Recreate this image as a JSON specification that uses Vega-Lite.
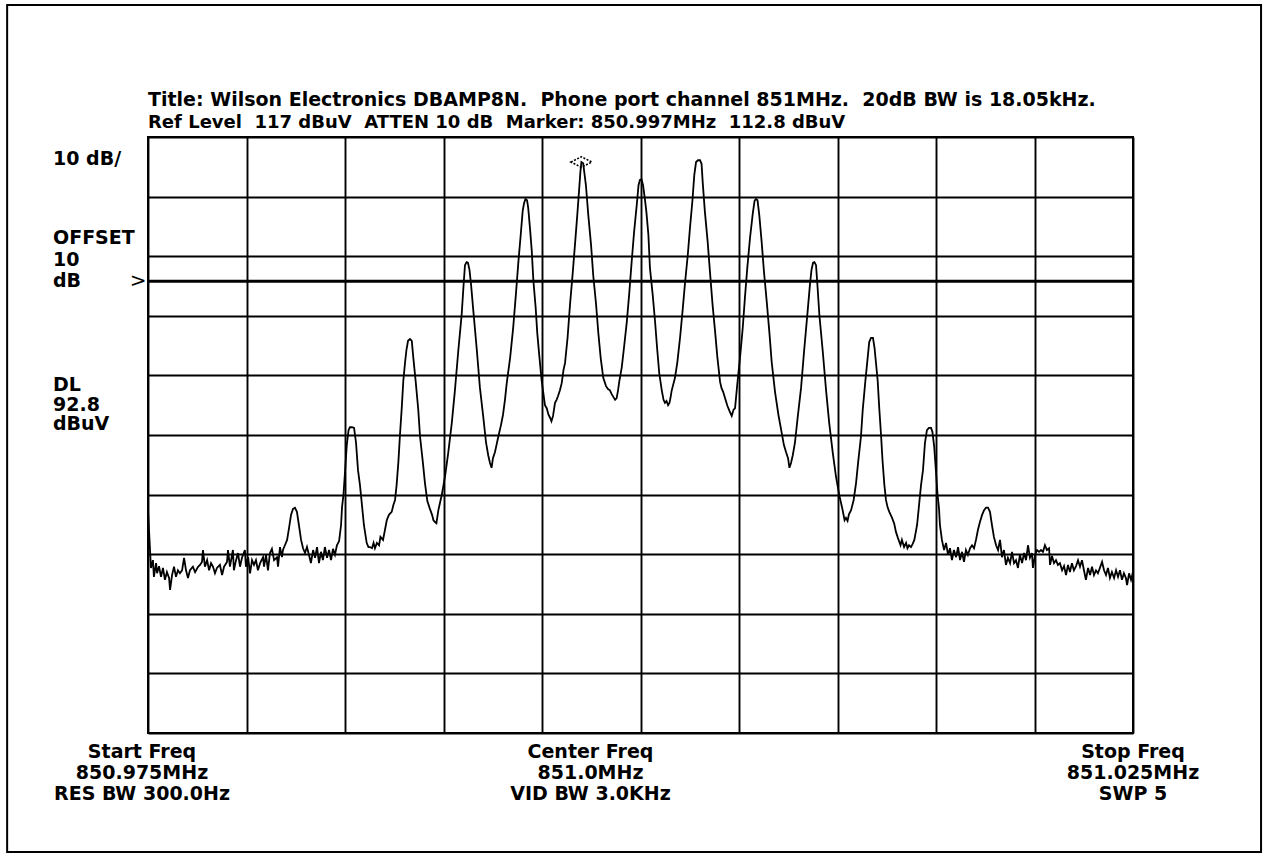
{
  "$schema": "https://vega.github.io/schema/vega-lite/v6.json",
  "width": 985,
  "height": 596,
  "autosize": {"type": "none"},
  "padding": {"left": 148, "top": 137, "right": 135, "bottom": 126},
  "background": "white",
  "config": {
    "view": {"stroke": "black", "strokeWidth": 2},
    "axis": {"grid": true, "gridColor": "black", "gridOpacity": 1, "gridWidth": 1.9, "domain": false, "ticks": false, "labels": false},
    "text": {"font": "DejaVu Sans", "fontWeight": "bold", "fontSize": 19, "fill": "black"}
  },
  "datasets": {
    "trace": [
      {"khz":-25.00,"dbuv":54.4},{"khz":-24.95,"dbuv":51.1},{"khz":-24.85,"dbuv":44.7},{"khz":-24.75,"dbuv":46.0},
      {"khz":-24.70,"dbuv":43.2},{"khz":-24.59,"dbuv":45.5},{"khz":-24.54,"dbuv":43.8},{"khz":-24.44,"dbuv":45.0},
      {"khz":-24.34,"dbuv":43.2},{"khz":-24.24,"dbuv":44.7},{"khz":-24.14,"dbuv":42.7},{"khz":-24.04,"dbuv":44.0},
      {"khz":-23.93,"dbuv":43.0},{"khz":-23.88,"dbuv":41.0},{"khz":-23.78,"dbuv":43.5},{"khz":-23.68,"dbuv":44.9},
      {"khz":-23.58,"dbuv":43.2},{"khz":-23.48,"dbuv":44.3},{"khz":-23.38,"dbuv":43.8},{"khz":-23.27,"dbuv":44.3},
      {"khz":-23.17,"dbuv":46.4},{"khz":-23.07,"dbuv":44.3},{"khz":-22.97,"dbuv":43.0},{"khz":-22.87,"dbuv":44.3},
      {"khz":-22.72,"dbuv":44.9},{"khz":-22.61,"dbuv":44.0},{"khz":-22.46,"dbuv":44.9},{"khz":-22.36,"dbuv":45.2},
      {"khz":-22.26,"dbuv":45.7},{"khz":-22.21,"dbuv":47.7},{"khz":-22.11,"dbuv":44.9},{"khz":-22.00,"dbuv":46.0},
      {"khz":-21.90,"dbuv":44.3},{"khz":-21.80,"dbuv":45.5},{"khz":-21.70,"dbuv":44.9},{"khz":-21.60,"dbuv":43.8},
      {"khz":-21.50,"dbuv":44.7},{"khz":-21.35,"dbuv":45.2},{"khz":-21.24,"dbuv":43.5},{"khz":-21.14,"dbuv":44.9},
      {"khz":-20.99,"dbuv":45.7},{"khz":-20.94,"dbuv":47.7},{"khz":-20.84,"dbuv":44.9},{"khz":-20.69,"dbuv":47.7},
      {"khz":-20.64,"dbuv":44.3},{"khz":-20.53,"dbuv":46.0},{"khz":-20.43,"dbuv":47.2},{"khz":-20.33,"dbuv":44.9},
      {"khz":-20.23,"dbuv":46.4},{"khz":-20.08,"dbuv":47.7},{"khz":-20.03,"dbuv":44.9},{"khz":-19.92,"dbuv":46.5},
      {"khz":-19.82,"dbuv":43.8},{"khz":-19.72,"dbuv":46.0},{"khz":-19.62,"dbuv":45.2},{"khz":-19.52,"dbuv":46.0},
      {"khz":-19.42,"dbuv":44.3},{"khz":-19.31,"dbuv":45.5},{"khz":-19.16,"dbuv":46.5},{"khz":-19.11,"dbuv":44.9},
      {"khz":-19.01,"dbuv":46.9},{"khz":-18.91,"dbuv":44.3},{"khz":-18.81,"dbuv":47.2},{"khz":-18.71,"dbuv":47.9},
      {"khz":-18.60,"dbuv":46.0},{"khz":-18.45,"dbuv":46.5},{"khz":-18.40,"dbuv":44.9},{"khz":-18.30,"dbuv":48.2},
      {"khz":-18.20,"dbuv":46.5},{"khz":-18.15,"dbuv":47.7},{"khz":-18.05,"dbuv":48.5},{"khz":-17.94,"dbuv":49.4},
      {"khz":-17.84,"dbuv":51.4},{"khz":-17.74,"dbuv":53.6},{"khz":-17.64,"dbuv":54.6},{"khz":-17.54,"dbuv":54.8},
      {"khz":-17.44,"dbuv":54.1},{"khz":-17.34,"dbuv":51.9},{"khz":-17.23,"dbuv":49.4},{"khz":-17.13,"dbuv":48.0},
      {"khz":-17.03,"dbuv":47.2},{"khz":-16.93,"dbuv":48.2},{"khz":-16.83,"dbuv":46.9},{"khz":-16.73,"dbuv":45.5},
      {"khz":-16.62,"dbuv":47.7},{"khz":-16.52,"dbuv":46.4},{"khz":-16.42,"dbuv":48.2},{"khz":-16.32,"dbuv":45.5},
      {"khz":-16.22,"dbuv":47.4},{"khz":-16.12,"dbuv":46.0},{"khz":-16.02,"dbuv":48.2},{"khz":-15.91,"dbuv":46.4},
      {"khz":-15.81,"dbuv":47.7},{"khz":-15.71,"dbuv":46.0},{"khz":-15.61,"dbuv":47.9},{"khz":-15.51,"dbuv":46.9},
      {"khz":-15.41,"dbuv":48.5},{"khz":-15.30,"dbuv":49.2},{"khz":-15.20,"dbuv":51.9},{"khz":-15.15,"dbuv":54.9},
      {"khz":-15.08,"dbuv":56.9},{"khz":-15.00,"dbuv":60.8},{"khz":-14.91,"dbuv":65.3},{"khz":-14.82,"dbuv":67.8},
      {"khz":-14.75,"dbuv":68.3},{"khz":-14.64,"dbuv":68.3},{"khz":-14.54,"dbuv":68.2},{"khz":-14.44,"dbuv":65.7},
      {"khz":-14.34,"dbuv":61.1},{"khz":-14.24,"dbuv":58.6},{"khz":-14.15,"dbuv":55.6},{"khz":-14.04,"dbuv":51.9},
      {"khz":-13.90,"dbuv":48.9},{"khz":-13.81,"dbuv":48.2},{"khz":-13.73,"dbuv":48.2},{"khz":-13.63,"dbuv":48.0},
      {"khz":-13.55,"dbuv":48.9},{"khz":-13.48,"dbuv":48.0},{"khz":-13.38,"dbuv":48.9},{"khz":-13.27,"dbuv":48.5},
      {"khz":-13.20,"dbuv":49.9},{"khz":-13.07,"dbuv":49.4},{"khz":-12.97,"dbuv":51.1},{"khz":-12.88,"dbuv":52.7},
      {"khz":-12.77,"dbuv":53.6},{"khz":-12.63,"dbuv":54.1},{"khz":-12.54,"dbuv":55.3},{"khz":-12.46,"dbuv":56.1},
      {"khz":-12.38,"dbuv":58.6},{"khz":-12.29,"dbuv":62.5},{"khz":-12.21,"dbuv":67.0},{"khz":-12.12,"dbuv":71.5},
      {"khz":-12.04,"dbuv":76.1},{"khz":-11.95,"dbuv":79.2},{"khz":-11.88,"dbuv":81.3},{"khz":-11.80,"dbuv":82.8},
      {"khz":-11.70,"dbuv":83.1},{"khz":-11.61,"dbuv":82.8},{"khz":-11.53,"dbuv":79.9},{"khz":-11.41,"dbuv":75.9},
      {"khz":-11.28,"dbuv":71.2},{"khz":-11.19,"dbuv":66.7},{"khz":-11.05,"dbuv":62.5},{"khz":-10.94,"dbuv":58.9},
      {"khz":-10.82,"dbuv":55.9},{"khz":-10.69,"dbuv":54.6},{"khz":-10.58,"dbuv":53.6},{"khz":-10.51,"dbuv":52.7},
      {"khz":-10.43,"dbuv":52.4},{"khz":-10.36,"dbuv":52.2},{"khz":-10.26,"dbuv":54.4},{"khz":-10.18,"dbuv":55.6},
      {"khz":-10.09,"dbuv":56.9},{"khz":-10.00,"dbuv":58.6},{"khz":-9.92,"dbuv":60.1},{"khz":-9.76,"dbuv":64.0},
      {"khz":-9.58,"dbuv":69.0},{"khz":-9.42,"dbuv":74.5},{"khz":-9.25,"dbuv":81.1},{"khz":-9.08,"dbuv":87.1},
      {"khz":-8.98,"dbuv":92.2},{"khz":-8.91,"dbuv":95.5},{"khz":-8.83,"dbuv":96.0},{"khz":-8.76,"dbuv":95.9},
      {"khz":-8.68,"dbuv":94.7},{"khz":-8.60,"dbuv":92.2},{"khz":-8.49,"dbuv":88.0},{"khz":-8.31,"dbuv":81.3},
      {"khz":-8.15,"dbuv":74.9},{"khz":-7.98,"dbuv":70.0},{"khz":-7.84,"dbuv":65.7},{"khz":-7.73,"dbuv":63.6},
      {"khz":-7.64,"dbuv":62.3},{"khz":-7.56,"dbuv":61.5},{"khz":-7.49,"dbuv":63.1},{"khz":-7.39,"dbuv":64.1},
      {"khz":-7.31,"dbuv":65.3},{"khz":-7.22,"dbuv":66.7},{"khz":-7.08,"dbuv":68.7},{"khz":-6.98,"dbuv":70.4},
      {"khz":-6.88,"dbuv":72.9},{"khz":-6.79,"dbuv":75.7},{"khz":-6.62,"dbuv":79.9},{"khz":-6.46,"dbuv":85.1},
      {"khz":-6.32,"dbuv":90.8},{"khz":-6.20,"dbuv":96.0},{"khz":-6.08,"dbuv":100.6},{"khz":-5.98,"dbuv":104.6},
      {"khz":-5.91,"dbuv":105.9},{"khz":-5.84,"dbuv":106.6},{"khz":-5.76,"dbuv":106.4},{"khz":-5.70,"dbuv":105.1},
      {"khz":-5.61,"dbuv":101.7},{"khz":-5.52,"dbuv":97.9},{"khz":-5.44,"dbuv":93.0},{"khz":-5.32,"dbuv":88.3},
      {"khz":-5.24,"dbuv":84.1},{"khz":-5.14,"dbuv":80.4},{"khz":-5.02,"dbuv":76.2},{"khz":-4.93,"dbuv":74.0},
      {"khz":-4.85,"dbuv":72.0},{"khz":-4.76,"dbuv":71.5},{"khz":-4.67,"dbuv":70.4},{"khz":-4.59,"dbuv":69.9},
      {"khz":-4.52,"dbuv":69.3},{"khz":-4.44,"dbuv":70.2},{"khz":-4.34,"dbuv":72.4},{"khz":-4.26,"dbuv":72.9},
      {"khz":-4.19,"dbuv":73.5},{"khz":-4.09,"dbuv":74.5},{"khz":-4.00,"dbuv":75.7},{"khz":-3.91,"dbuv":77.9},
      {"khz":-3.83,"dbuv":79.1},{"khz":-3.70,"dbuv":83.4},{"khz":-3.58,"dbuv":88.8},{"khz":-3.44,"dbuv":94.2},
      {"khz":-3.32,"dbuv":99.2},{"khz":-3.21,"dbuv":103.9},{"khz":-3.11,"dbuv":108.4},{"khz":-3.05,"dbuv":111.2},
      {"khz":-3.00,"dbuv":112.8},{"khz":-2.91,"dbuv":112.6},{"khz":-2.77,"dbuv":108.9},{"khz":-2.65,"dbuv":103.9},
      {"khz":-2.51,"dbuv":98.9},{"khz":-2.40,"dbuv":93.8},{"khz":-2.26,"dbuv":89.1},{"khz":-2.14,"dbuv":84.1},
      {"khz":-2.02,"dbuv":79.9},{"khz":-1.89,"dbuv":76.6},{"khz":-1.75,"dbuv":75.2},{"khz":-1.65,"dbuv":74.7},
      {"khz":-1.55,"dbuv":74.5},{"khz":-1.47,"dbuv":73.9},{"khz":-1.38,"dbuv":73.4},{"khz":-1.29,"dbuv":72.9},
      {"khz":-1.21,"dbuv":73.2},{"khz":-1.14,"dbuv":74.5},{"khz":-1.08,"dbuv":75.9},{"khz":-0.95,"dbuv":78.4},
      {"khz":-0.84,"dbuv":81.6},{"khz":-0.70,"dbuv":85.8},{"khz":-0.57,"dbuv":90.8},{"khz":-0.45,"dbuv":96.0},
      {"khz":-0.33,"dbuv":100.9},{"khz":-0.19,"dbuv":105.6},{"khz":-0.10,"dbuv":108.9},{"khz":-0.03,"dbuv":109.8},
      {"khz":0.05,"dbuv":109.9},{"khz":0.13,"dbuv":108.9},{"khz":0.23,"dbuv":106.4},{"khz":0.30,"dbuv":104.4},
      {"khz":0.40,"dbuv":100.6},{"khz":0.48,"dbuv":95.0},{"khz":0.62,"dbuv":90.5},{"khz":0.74,"dbuv":86.0},
      {"khz":0.85,"dbuv":81.3},{"khz":0.95,"dbuv":77.4},{"khz":1.08,"dbuv":74.5},{"khz":1.17,"dbuv":72.9},
      {"khz":1.24,"dbuv":72.4},{"khz":1.32,"dbuv":72.7},{"khz":1.40,"dbuv":72.0},{"khz":1.47,"dbuv":72.4},
      {"khz":1.52,"dbuv":73.2},{"khz":1.58,"dbuv":74.4},{"khz":1.75,"dbuv":76.6},{"khz":1.87,"dbuv":79.2},
      {"khz":2.01,"dbuv":83.4},{"khz":2.14,"dbuv":88.0},{"khz":2.26,"dbuv":92.5},{"khz":2.40,"dbuv":97.2},
      {"khz":2.51,"dbuv":101.7},{"khz":2.63,"dbuv":106.1},{"khz":2.73,"dbuv":110.6},{"khz":2.82,"dbuv":112.8},
      {"khz":2.92,"dbuv":113.1},{"khz":3.02,"dbuv":113.1},{"khz":3.10,"dbuv":112.5},{"khz":3.16,"dbuv":109.3},
      {"khz":3.27,"dbuv":104.4},{"khz":3.41,"dbuv":99.4},{"khz":3.53,"dbuv":94.2},{"khz":3.66,"dbuv":88.8},
      {"khz":3.78,"dbuv":84.6},{"khz":3.90,"dbuv":80.1},{"khz":4.04,"dbuv":75.9},{"khz":4.11,"dbuv":74.9},
      {"khz":4.20,"dbuv":74.2},{"khz":4.29,"dbuv":73.2},{"khz":4.41,"dbuv":71.9},{"khz":4.52,"dbuv":71.0},
      {"khz":4.63,"dbuv":70.2},{"khz":4.72,"dbuv":71.2},{"khz":4.80,"dbuv":71.5},{"khz":4.91,"dbuv":75.4},
      {"khz":5.05,"dbuv":79.9},{"khz":5.19,"dbuv":85.0},{"khz":5.30,"dbuv":90.0},{"khz":5.42,"dbuv":95.0},
      {"khz":5.56,"dbuv":100.1},{"khz":5.70,"dbuv":104.2},{"khz":5.79,"dbuv":106.3},{"khz":5.86,"dbuv":106.6},
      {"khz":5.94,"dbuv":106.4},{"khz":6.03,"dbuv":103.9},{"khz":6.15,"dbuv":99.4},{"khz":6.27,"dbuv":94.3},
      {"khz":6.41,"dbuv":89.3},{"khz":6.54,"dbuv":84.3},{"khz":6.66,"dbuv":79.2},{"khz":6.83,"dbuv":74.2},
      {"khz":7.00,"dbuv":70.4},{"khz":7.17,"dbuv":67.3},{"khz":7.28,"dbuv":65.3},{"khz":7.39,"dbuv":64.1},
      {"khz":7.49,"dbuv":63.1},{"khz":7.56,"dbuv":61.5},{"khz":7.64,"dbuv":62.3},{"khz":7.73,"dbuv":63.6},
      {"khz":7.84,"dbuv":65.7},{"khz":7.98,"dbuv":70.0},{"khz":8.15,"dbuv":74.9},{"khz":8.31,"dbuv":81.3},
      {"khz":8.49,"dbuv":88.0},{"khz":8.60,"dbuv":92.2},{"khz":8.68,"dbuv":94.7},{"khz":8.76,"dbuv":95.9},
      {"khz":8.83,"dbuv":96.0},{"khz":8.91,"dbuv":95.5},{"khz":8.98,"dbuv":92.2},{"khz":9.08,"dbuv":87.1},
      {"khz":9.25,"dbuv":81.1},{"khz":9.42,"dbuv":74.5},{"khz":9.58,"dbuv":69.0},{"khz":9.76,"dbuv":64.0},
      {"khz":9.92,"dbuv":60.1},{"khz":10.00,"dbuv":58.6},{"khz":10.09,"dbuv":56.9},{"khz":10.18,"dbuv":55.6},
      {"khz":10.26,"dbuv":54.4},{"khz":10.36,"dbuv":52.7},{"khz":10.43,"dbuv":53.1},{"khz":10.51,"dbuv":52.6},
      {"khz":10.58,"dbuv":53.7},{"khz":10.69,"dbuv":54.4},{"khz":10.82,"dbuv":56.1},{"khz":10.94,"dbuv":58.9},
      {"khz":11.05,"dbuv":62.5},{"khz":11.19,"dbuv":66.7},{"khz":11.28,"dbuv":71.2},{"khz":11.41,"dbuv":75.9},
      {"khz":11.53,"dbuv":79.9},{"khz":11.61,"dbuv":82.6},{"khz":11.70,"dbuv":83.3},{"khz":11.80,"dbuv":83.3},
      {"khz":11.88,"dbuv":81.6},{"khz":11.95,"dbuv":79.2},{"khz":12.04,"dbuv":76.1},{"khz":12.12,"dbuv":71.5},
      {"khz":12.21,"dbuv":67.0},{"khz":12.29,"dbuv":62.5},{"khz":12.38,"dbuv":58.6},{"khz":12.46,"dbuv":56.1},
      {"khz":12.54,"dbuv":54.9},{"khz":12.63,"dbuv":54.1},{"khz":12.77,"dbuv":53.1},{"khz":12.88,"dbuv":52.1},
      {"khz":12.97,"dbuv":50.7},{"khz":13.07,"dbuv":49.7},{"khz":13.20,"dbuv":48.5},{"khz":13.27,"dbuv":49.4},
      {"khz":13.38,"dbuv":48.2},{"khz":13.48,"dbuv":48.9},{"khz":13.55,"dbuv":48.0},{"khz":13.63,"dbuv":48.5},
      {"khz":13.73,"dbuv":48.2},{"khz":13.81,"dbuv":48.7},{"khz":13.90,"dbuv":49.4},{"khz":14.04,"dbuv":51.9},
      {"khz":14.15,"dbuv":55.6},{"khz":14.24,"dbuv":58.6},{"khz":14.34,"dbuv":61.1},{"khz":14.44,"dbuv":65.7},
      {"khz":14.54,"dbuv":67.8},{"khz":14.64,"dbuv":68.2},{"khz":14.75,"dbuv":68.2},{"khz":14.82,"dbuv":67.5},
      {"khz":14.91,"dbuv":65.0},{"khz":15.00,"dbuv":60.8},{"khz":15.08,"dbuv":56.9},{"khz":15.15,"dbuv":54.8},
      {"khz":15.20,"dbuv":51.9},{"khz":15.30,"dbuv":49.4},{"khz":15.41,"dbuv":47.7},{"khz":15.51,"dbuv":48.9},
      {"khz":15.61,"dbuv":46.9},{"khz":15.71,"dbuv":48.0},{"khz":15.81,"dbuv":46.0},{"khz":15.91,"dbuv":47.7},
      {"khz":16.02,"dbuv":46.5},{"khz":16.12,"dbuv":48.2},{"khz":16.22,"dbuv":46.0},{"khz":16.32,"dbuv":47.4},
      {"khz":16.42,"dbuv":45.7},{"khz":16.52,"dbuv":47.7},{"khz":16.62,"dbuv":46.9},{"khz":16.73,"dbuv":48.0},
      {"khz":16.83,"dbuv":48.5},{"khz":16.93,"dbuv":48.0},{"khz":17.03,"dbuv":49.4},{"khz":17.13,"dbuv":51.1},
      {"khz":17.23,"dbuv":52.4},{"khz":17.34,"dbuv":53.6},{"khz":17.44,"dbuv":54.4},{"khz":17.54,"dbuv":54.8},
      {"khz":17.64,"dbuv":54.8},{"khz":17.74,"dbuv":54.1},{"khz":17.84,"dbuv":51.9},{"khz":17.94,"dbuv":49.9},
      {"khz":18.05,"dbuv":48.5},{"khz":18.15,"dbuv":47.7},{"khz":18.25,"dbuv":49.4},{"khz":18.35,"dbuv":46.5},
      {"khz":18.45,"dbuv":47.7},{"khz":18.55,"dbuv":45.2},{"khz":18.65,"dbuv":46.4},{"khz":18.76,"dbuv":45.5},
      {"khz":18.86,"dbuv":47.4},{"khz":18.96,"dbuv":45.5},{"khz":19.06,"dbuv":46.0},{"khz":19.16,"dbuv":44.7},
      {"khz":19.26,"dbuv":46.9},{"khz":19.37,"dbuv":45.5},{"khz":19.47,"dbuv":47.2},{"khz":19.57,"dbuv":46.0},
      {"khz":19.67,"dbuv":48.5},{"khz":19.77,"dbuv":46.4},{"khz":19.87,"dbuv":47.2},{"khz":19.92,"dbuv":44.7},
      {"khz":20.03,"dbuv":46.9},{"khz":20.13,"dbuv":47.7},{"khz":20.23,"dbuv":47.4},{"khz":20.33,"dbuv":47.7},
      {"khz":20.43,"dbuv":47.4},{"khz":20.53,"dbuv":48.5},{"khz":20.63,"dbuv":47.7},{"khz":20.74,"dbuv":48.0},
      {"khz":20.79,"dbuv":45.2},{"khz":20.89,"dbuv":46.7},{"khz":20.99,"dbuv":45.5},{"khz":21.09,"dbuv":46.0},
      {"khz":21.19,"dbuv":45.2},{"khz":21.29,"dbuv":45.5},{"khz":21.40,"dbuv":44.3},{"khz":21.50,"dbuv":45.0},
      {"khz":21.60,"dbuv":43.5},{"khz":21.70,"dbuv":45.2},{"khz":21.80,"dbuv":44.0},{"khz":21.90,"dbuv":45.5},
      {"khz":22.00,"dbuv":44.3},{"khz":22.11,"dbuv":45.0},{"khz":22.21,"dbuv":46.0},{"khz":22.31,"dbuv":44.9},
      {"khz":22.41,"dbuv":46.0},{"khz":22.51,"dbuv":44.3},{"khz":22.61,"dbuv":42.7},{"khz":22.72,"dbuv":44.7},
      {"khz":22.82,"dbuv":43.5},{"khz":22.92,"dbuv":44.9},{"khz":23.02,"dbuv":43.5},{"khz":23.12,"dbuv":44.3},
      {"khz":23.22,"dbuv":43.8},{"khz":23.32,"dbuv":44.7},{"khz":23.43,"dbuv":45.7},{"khz":23.53,"dbuv":44.3},
      {"khz":23.63,"dbuv":43.5},{"khz":23.73,"dbuv":44.7},{"khz":23.83,"dbuv":43.0},{"khz":23.93,"dbuv":44.0},
      {"khz":24.04,"dbuv":43.0},{"khz":24.14,"dbuv":44.3},{"khz":24.24,"dbuv":43.2},{"khz":24.34,"dbuv":44.3},
      {"khz":24.44,"dbuv":42.7},{"khz":24.54,"dbuv":43.8},{"khz":24.64,"dbuv":43.0},{"khz":24.70,"dbuv":41.8},
      {"khz":24.80,"dbuv":43.8},{"khz":24.90,"dbuv":42.7},{"khz":25.00,"dbuv":44.0}
    ]
  },
  "layer": [
    {
      "data": {"name": "trace"},
      "mark": {"type": "line", "color": "black", "strokeWidth": 1.8, "clip": true},
      "encoding": {
        "x": {
          "field": "khz", "type": "quantitative",
          "scale": {"domain": [-25, 25], "nice": false, "zero": false},
          "axis": {"title": null, "values": [-25, -20, -15, -10, -5, 0, 5, 10, 15, 20, 25]}
        },
        "y": {
          "field": "dbuv", "type": "quantitative",
          "scale": {"domain": [17, 117], "nice": false, "zero": false},
          "axis": {"title": null, "values": [17, 27, 37, 47, 57, 67, 77, 87, 97, 107, 117]}
        }
      }
    },
    {
      "data": {"values": [{"dl": 92.8}]},
      "layer": [
        {
          "mark": {"type": "rule", "color": "black", "strokeWidth": 3},
          "encoding": {"y": {"field": "dl", "type": "quantitative"}}
        },
        {
          "mark": {"type": "text", "text": ">", "dx": -10, "align": "center", "baseline": "middle", "fontWeight": "normal", "fontSize": 20, "font": "DejaVu Sans"},
          "encoding": {"x": {"datum": -25}, "y": {"field": "dl", "type": "quantitative"}}
        }
      ]
    },
    {
      "data": {"values": [{"khz": -3.0, "dbuv": 112.8}]},
      "mark": {"type": "point", "shape": "M-1,0L0,-0.5L1,0L0,0.5Z", "size": 440, "filled": false, "stroke": "black", "strokeWidth": 1.6, "strokeDash": [2, 1.5], "opacity": 1},
      "encoding": {
        "x": {"field": "khz", "type": "quantitative"},
        "y": {"field": "dbuv", "type": "quantitative"}
      }
    },
    {
      "data": {"values": [{}]},
      "mark": {"type": "rect", "filled": false, "stroke": "black", "strokeWidth": 2},
      "encoding": {
        "x": {"datum": -32.15}, "x2": {"datum": 31.5},
        "y": {"datum": 139.15}, "y2": {"datum": -2.97}
      }
    },
    {
      "data": {"values": [{"line": "Title: Wilson Electronics DBAMP8N.\u00a0 Phone port channel 851MHz.\u00a0 20dB BW is 18.05kHz."}]},
      "mark": {"type": "text", "align": "left", "baseline": "alphabetic", "dy": -31},
      "encoding": {"x": {"datum": -25}, "y": {"datum": 117}, "text": {"field": "line"}}
    },
    {
      "data": {"values": [{"line": "Ref Level\u00a0 117 dBuV\u00a0 ATTEN 10 dB\u00a0 Marker: 850.997MHz\u00a0 112.8 dBuV"}]},
      "mark": {"type": "text", "align": "left", "baseline": "alphabetic", "dy": -9, "fontSize": 18},
      "encoding": {"x": {"datum": -25}, "y": {"datum": 117}, "text": {"field": "line"}}
    },
    {
      "data": {"values": [{"lines": ["10 dB/"]}]},
      "mark": {"type": "text", "align": "left", "baseline": "alphabetic", "dx": -95, "dy": 28},
      "encoding": {"x": {"datum": -25}, "y": {"datum": 117}, "text": {"field": "lines"}}
    },
    {
      "data": {"values": [{"lines": ["OFFSET", "\u00a010", "dB"]}]},
      "mark": {"type": "text", "align": "left", "baseline": "alphabetic", "dx": -95, "dy": 107, "lineHeight": 21.5},
      "encoding": {"x": {"datum": -25}, "y": {"datum": 117}, "text": {"field": "lines"}}
    },
    {
      "data": {"values": [{"lines": ["DL", "\u00a092.8", "dBuV"]}]},
      "mark": {"type": "text", "align": "left", "baseline": "alphabetic", "dx": -95, "dy": 254, "lineHeight": 19.5},
      "encoding": {"x": {"datum": -25}, "y": {"datum": 117}, "text": {"field": "lines"}}
    },
    {
      "data": {"values": [{"khz": -25, "lines": ["Start Freq", "850.975MHz", "RES BW 300.0Hz"]}]},
      "mark": {"type": "text", "align": "center", "baseline": "alphabetic", "dx": -6, "dy": 25, "lineHeight": 21},
      "encoding": {"x": {"field": "khz", "type": "quantitative"}, "y": {"datum": 17}, "text": {"field": "lines"}}
    },
    {
      "data": {"values": [{"khz": 0, "lines": ["Center Freq", "851.0MHz", "VID BW 3.0KHz"]}]},
      "mark": {"type": "text", "align": "center", "baseline": "alphabetic", "dx": -50, "dy": 25, "lineHeight": 21},
      "encoding": {"x": {"field": "khz", "type": "quantitative"}, "y": {"datum": 17}, "text": {"field": "lines"}}
    },
    {
      "data": {"values": [{"khz": 25, "lines": ["Stop Freq", "851.025MHz", "SWP 5"]}]},
      "mark": {"type": "text", "align": "center", "baseline": "alphabetic", "dx": 0, "dy": 25, "lineHeight": 21},
      "encoding": {"x": {"field": "khz", "type": "quantitative"}, "y": {"datum": 17}, "text": {"field": "lines"}}
    }
  ]
}
